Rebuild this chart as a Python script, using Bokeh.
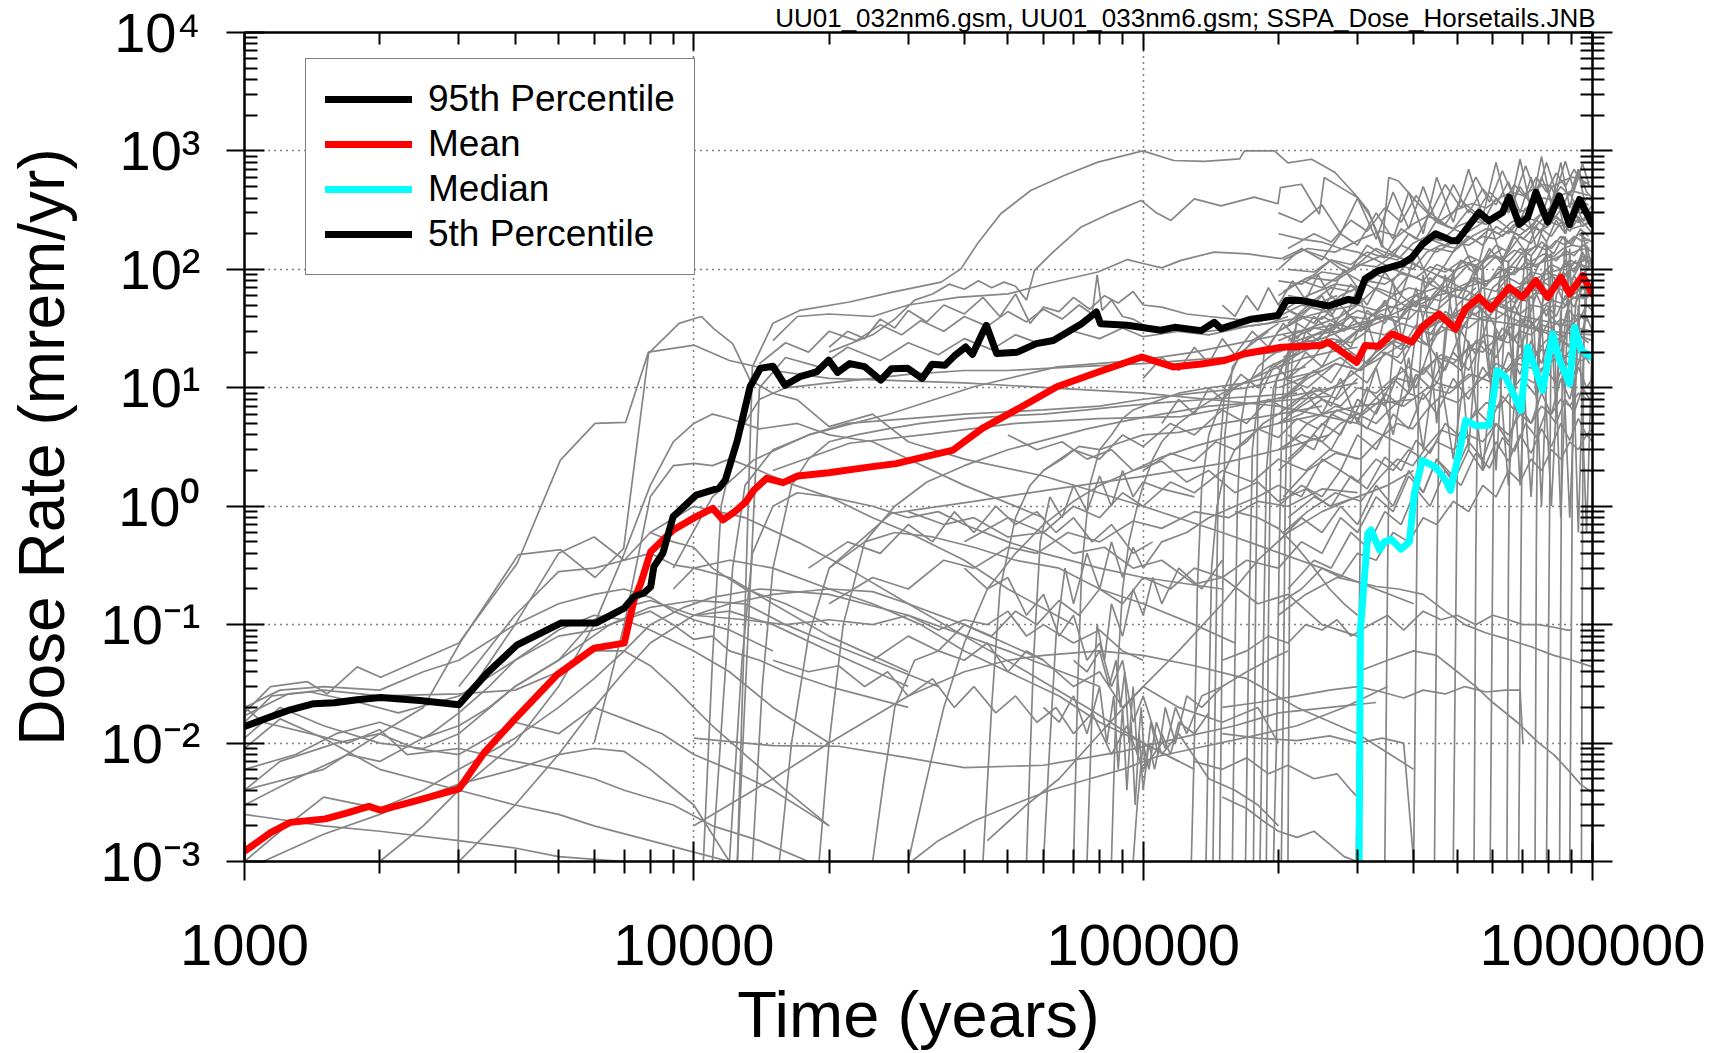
from bokeh.plotting import figure
from bokeh.models import (ColumnDataSource, FixedTicker, LogAxis, Range1d,
                          Legend, LegendItem, Title)
from bokeh.embed import file_html
from bokeh.resources import INLINE

# ---------------- data ----------------
x_tick_values = [1000, 10000, 100000, 1000000]
x_tick_labels = ["1000", "10000", "100000", "1000000"]
y_tick_values = [0.001, 0.01, 0.1, 1, 10, 100, 1000, 10000]
y_tick_labels = ["10\u207b\u00b3", "10\u207b\u00b2", "10\u207b\u00b9", "10\u2070",
                 "10\u00b9", "10\u00b2", "10\u00b3", "10\u2074"]
series_names = ["95th Percentile", "Mean", "Median", "5th Percentile"]
x_title = "Time (years)"
y_title = "Dose Rate (mrem/yr)"
file_note = "UU01_032nm6.gsm, UU01_033nm6.gsm; SSPA_Dose_Horsetails.JNB"

# statistics (time [yr], dose [mrem/yr])
p95 = [(1000, 0.0138), (1124, 0.0163), (1265, 0.0191), (1426, 0.0215), (1585, 0.0219),
       (1782, 0.0232), (2009, 0.0243), (2455, 0.0229), (3000, 0.0211), (3467, 0.039),
       (4046, 0.0676), (5058, 0.103), (6053, 0.103), (7000, 0.138), (7362, 0.173),
       (7745, 0.185), (8017, 0.209), (8147, 0.309), (8531, 0.401), (8995, 0.817),
       (10120, 1.24), (11380, 1.42), (11750, 1.66), (12500, 3.61), (13340, 10.2),
       (14060, 14.6), (15000, 15.2), (15960, 10.5), (17220, 12.4), (18750, 13.6),
       (19950, 17.1), (20890, 13.5), (22230, 16.0), (23990, 15.1), (26060, 11.6),
       (27540, 14.5), (29920, 14.6), (32210, 12.0), (33880, 15.8), (36220, 15.5),
       (38020, 18.6), (40270, 22.1), (41690, 19.1), (43850, 28.7), (44770, 33.7),
       (47210, 19.5), (52480, 20.0), (57810, 23.6), (63100, 25.1), (72940, 34.8),
       (78700, 43.6), (80350, 34.8), (92260, 33.7), (109400, 30.6), (117500, 32.4),
       (134600, 30.4), (144000, 35.7), (149100, 31.6), (174000, 38.0), (199500, 40.7),
       (208400, 54.5), (225000, 54.5), (258200, 49.0), (286200, 55.8), (298800, 54.1),
       (311900, 83.2), (334000, 97.7), (363900, 107), (376700, 111), (396600, 126),
       (417600, 162), (447300, 200), (487400, 174), (500000, 174), (530900, 234),
       (559300, 302), (588700, 257), (630500, 302), (652400, 407), (686800, 240),
       (716900, 275), (748300, 447), (794900, 251), (843800, 417), (888700, 240),
       (935400, 389), (1000000, 240)]

mean = [(1000, 0.00122), (1143, 0.00175), (1265, 0.00214), (1514, 0.00229), (1694, 0.00257),
        (1892, 0.00292), (2009, 0.00271), (2382, 0.00322), (3000, 0.0041), (3412, 0.00826),
        (3981, 0.0157), (4966, 0.0378), (5998, 0.0634), (7000, 0.0698), (7362, 0.162),
        (7621, 0.224), (8017, 0.413), (8995, 0.63), (10120, 0.817), (11020, 0.959),
        (11610, 0.766), (12300, 0.89), (13060, 1.09), (13610, 1.37), (14520, 1.72),
        (15810, 1.58), (17020, 1.80), (19950, 1.92), (24720, 2.15), (28180, 2.29),
        (32580, 2.61), (37760, 2.98), (43850, 4.54), (52000, 6.47), (64270, 10.2),
        (79430, 13.6), (99310, 18.2), (116700, 15.0), (134600, 15.9), (151700, 17.0),
        (168300, 19.4), (202800, 22.0), (249500, 22.8), (258200, 24.3), (298800, 16.4),
        (311900, 22.8), (334000, 22.4), (358100, 28.5), (396300, 24.3), (417800, 32.4),
        (455000, 42.1), (495500, 31.4), (521200, 46.3), (559300, 58.1), (593700, 46.3),
        (652400, 70.5), (698200, 58.1), (748200, 80.2), (794900, 58.1), (851100, 85.7),
        (888700, 61.9), (950600, 88.5), (1000000, 61.9)]

median = [(302400, 0.001), (304400, 0.0904), (316200, 0.59), (321500, 0.631), (335700, 0.427),
          (344400, 0.501), (356300, 0.526), (375000, 0.434), (391300, 0.501), (401400, 1.28),
          (417800, 2.44), (447300, 2.14), (470900, 1.66), (483100, 1.36), (504300, 2.78),
          (522100, 5.31), (549500, 4.79), (588700, 4.82), (613800, 14.0), (641200, 12.3),
          (692600, 6.44), (716900, 22.0), (748300, 14.0), (774500, 9.51), (815500, 28.5),
          (843800, 17.2), (889200, 10.8), (912000, 32.4), (943500, 20.7), (968300, 19.4),
          (1000000, 18.1)]

# individual realizations (horsetails)
run_g01 = [(1000, 0.018), (1143, 0.030), (1380, 0.033), (1528, 0.026), (1782, 0.044), (2009, 0.036),
           (3000, 0.070), (4046, 0.33), (5047, 2.45), (6026, 5.0), (7047, 5.1), (7925, 20),
           (10020, 22.9), (12000, 17), (15000, 14), (20000, 12), (40000, 11), (100000, 9),
           (200000, 7), (300000, 5), (400000, 3)]
run_g02 = [(1000, 0.004), (1500, 0.006), (2000, 0.012), (2500, 0.02), (3030, 0.072), (4070, 0.39),
           (5050, 0.43), (6030, 0.25), (6980, 0.44), (7930, 19.5), (9270, 35), (10400, 40),
           (11070, 31.6), (12200, 23.6), (13340, 11.6), (15000, 9), (17000, 7.9), (20000, 4.7),
           (25000, 6.0), (30000, 3.5), (40000, 2.5), (60000, 1.8), (100000, 1.0), (150000, 0.6),
           (250000, 0.3), (400000, 0.15)]
run_g03 = [(12500, 0.001), (13500, 15), (15000, 35), (17200, 45), (22200, 53), (27500, 64),
           (35500, 78), (39300, 101), (42800, 165), (48200, 295), (56200, 463), (66700, 621),
           (79300, 804), (99800, 1000), (117000, 830), (137000, 815), (164000, 857), (168000, 1000),
           (196000, 1000), (210000, 794), (237000, 851), (267000, 661), (296000, 431), (317000, 312),
           (340000, 153), (352000, 596), (370000, 558), (404000, 379), (450000, 250), (520000, 200),
           (600000, 280), (700000, 180), (800000, 300), (900000, 220), (1000000, 250)]
run_g04 = [(20000, 20), (25000, 28), (28000, 38), (31000, 55), (34000, 62), (37000, 75), (40000, 68),
           (43000, 80), (46000, 70), (49000, 78), (52000, 72), (55000, 55), (57300, 98), (63000, 140),
           (72800, 228), (85000, 300), (98900, 382), (107000, 300), (115300, 259), (130000, 394),
           (149000, 344), (176600, 407), (199500, 358), (202000, 490), (225000, 523), (246600, 292),
           (252900, 596), (275400, 490), (300000, 405), (321000, 275), (343000, 153), (380000, 120),
           (450000, 90), (550000, 60), (700000, 40), (1000000, 30)]
run_g05 = [(15000, 25), (17000, 40), (20000, 42), (25000, 40), (30000, 50), (38600, 58), (50000, 62),
           (61200, 76), (79300, 95), (92300, 121), (100000, 112), (110000, 103), (121400, 119),
           (143900, 140), (171000, 135), (202800, 123), (225000, 148), (254000, 126), (286000, 91),
           (307000, 78), (350000, 60), (400000, 45), (500000, 40), (650000, 35), (800000, 30),
           (1000000, 28)]
run_g07 = [(20000, 22), (22000, 30), (24000, 26), (26000, 38), (28000, 32), (30000, 45), (33000, 36),
           (36000, 50), (40000, 42), (44000, 58), (48000, 40), (52000, 62), (56000, 35), (60000, 48),
           (65000, 44), (70000, 58), (76000, 46), (82000, 60), (88000, 52), (95000, 65), (100000, 50),
           (110000, 48), (125000, 42), (140000, 40), (160000, 38), (180000, 36), (200000, 40)]
run_g08 = [(14000, 16), (16000, 24), (18000, 20), (20000, 30), (23000, 25), (26000, 34), (29000, 28),
           (32000, 37), (36000, 30), (40000, 40), (45000, 33), (50000, 44), (55000, 36), (60000, 46),
           (66000, 38), (72000, 50), (77000, 42), (79000, 90), (81000, 45), (85000, 55), (90000, 40),
           (95000, 38), (100000, 34), (105000, 30), (115000, 32), (130000, 29), (150000, 31),
           (170000, 33), (190000, 35), (210000, 40)]
run_g09 = [(12500, 0.001), (14000, 10), (16000, 18), (19000, 15), (22000, 22), (26000, 17), (30000, 24),
           (35000, 19), (40000, 26), (46000, 21), (52000, 28), (60000, 23), (70000, 30), (80000, 26),
           (90000, 32), (100000, 27), (120000, 30), (140000, 28), (170000, 33), (200000, 36),
           (230000, 40), (260000, 45), (300000, 50)]

run_e03 = [(1000, 0.015), (1150, 0.025), (1400, 0.027), (1800, 0.022), (2200, 0.018), (3000, 0.025),
           (4000, 0.05), (5000, 0.08), (6000, 0.09), (7000, 0.11), (8000, 0.13), (9000, 0.1),
           (10000, 0.075), (11000, 0.08), (12000, 0.06), (14000, 0.05), (16000, 0.04), (20000, 0.03),
           (30000, 0.02)]
run_e04 = [(1000, 0.011), (1200, 0.02), (1500, 0.014), (2000, 0.01), (2500, 0.009), (3000, 0.012),
           (4000, 0.03), (5000, 0.05), (6500, 0.1), (8000, 0.14), (10000, 0.16), (13000, 0.15),
           (16000, 0.1), (20000, 0.07), (25000, 0.05), (35000, 0.03)]
run_e05 = [(1000, 0.006), (1300, 0.008), (1600, 0.012), (2000, 0.015), (2500, 0.011), (3000, 0.014),
           (3500, 0.02), (4000, 0.03), (5000, 0.05), (6000, 0.11), (7000, 0.14), (8000, 0.16),
           (10000, 0.12), (12000, 0.13), (15000, 0.1), (20000, 0.06), (30000, 0.03)]
run_e06 = [(1000, 0.009), (1200, 0.016), (1500, 0.011), (2000, 0.006), (3000, 0.004), (4000, 0.003),
           (5000, 0.0025), (6000, 0.002), (8000, 0.0015), (10000, 0.0012), (12000, 0.001)]
run_e07 = [(1000, 0.02), (1100, 0.015), (1400, 0.012), (1700, 0.01), (2000, 0.013), (2300, 0.008),
           (3000, 0.009), (4000, 0.007), (5000, 0.006), (6000, 0.005), (7000, 0.004), (9000, 0.003),
           (11000, 0.002), (14000, 0.0015), (18000, 0.001)]
run_e08 = [(1000, 0.001), (1200, 0.0018), (1500, 0.0035), (2000, 0.0028), (2500, 0.004), (3000, 0.006),
           (4000, 0.011), (5000, 0.02), (6000, 0.035), (7000, 0.06), (8000, 0.1), (9500, 0.14),
           (11000, 0.17), (14000, 0.2), (20000, 0.18), (30000, 0.12), (50000, 0.06), (80000, 0.03)]
run_e09 = [(1000, 0.003), (1300, 0.005), (1700, 0.008), (2000, 0.007), (2600, 0.012), (3000, 0.018),
           (3500, 0.03), (4000, 0.05), (5000, 0.09), (6000, 0.12), (7000, 0.11), (8000, 0.09),
           (10000, 0.06), (12000, 0.04), (15000, 0.02), (20000, 0.01)]
run_e10 = [(1100, 0.001), (1500, 0.0017), (2000, 0.0025), (2500, 0.0035), (3000, 0.0045), (4000, 0.006),
           (5000, 0.008), (6000, 0.009), (7000, 0.0085), (8000, 0.006), (10000, 0.003), (12000, 0.001)]
run_e11 = [(1000, 0.017), (1250, 0.026), (1500, 0.028), (2000, 0.025), (3000, 0.026), (4000, 0.028),
           (5000, 0.04), (6000, 0.06), (7000, 0.06), (8000, 0.045), (9000, 0.03), (10000, 0.02),
           (11000, 0.014), (13000, 0.008), (16000, 0.004), (20000, 0.002)]
run_e12 = [(1000, 0.004), (1200, 0.007), (1600, 0.01), (2000, 0.012), (2400, 0.009), (3000, 0.008),
           (4000, 0.015), (5000, 0.012), (6000, 0.02), (7000, 0.016), (8500, 0.012), (10000, 0.008),
           (12000, 0.006), (15000, 0.004), (20000, 0.002)]
run_e13 = [(2000, 0.001), (2500, 0.002), (3000, 0.004), (4000, 0.01), (5000, 0.03), (6000, 0.1),
           (7000, 0.4), (8000, 1.5), (9000, 3.5), (10000, 5), (11000, 6), (12000, 5.5), (14000, 4.5),
           (17000, 5), (20000, 4), (25000, 3.5), (30000, 2.5), (40000, 1.5), (60000, 0.8)]
run_e14 = [(3000, 0.001), (4000, 0.003), (5000, 0.008), (6000, 0.02), (7000, 0.04), (8000, 0.07),
           (10000, 0.12), (12000, 0.15), (15000, 0.18), (20000, 0.2), (25000, 0.19), (30000, 0.15),
           (40000, 0.1), (60000, 0.05)]
run_e15 = [(1000, 0.0025), (1500, 0.002), (2000, 0.0018), (3000, 0.0015), (4000, 0.0013),
           (5000, 0.0011), (7000, 0.001)]
run_e16 = [(1000, 0.02), (1200, 0.028), (1500, 0.03), (2000, 0.028), (2500, 0.04), (3000, 0.05),
           (4000, 0.1), (5000, 0.15), (6000, 0.18), (7000, 0.2), (8000, 0.17), (9000, 0.13),
           (10000, 0.11), (12000, 0.09), (15000, 0.06)]
run_e17 = [(6000, 0.01), (7000, 0.1), (8000, 1.2), (9000, 2.2), (10000, 2.3), (11000, 2.2), (12000, 2.5),
           (14000, 2.0), (16000, 1.6), (20000, 1.2), (25000, 0.8), (30000, 0.6), (40000, 0.35),
           (50000, 0.2), (70000, 0.1)]
run_e18 = [(3000, 0.03), (4000, 0.12), (5000, 0.28), (6000, 0.3), (7000, 0.35), (8000, 0.4), (9000, 0.32),
           (10000, 0.3), (12000, 0.25), (15000, 0.15), (20000, 0.08), (30000, 0.04)]
run_e19 = [(2990, 0.001), (3000, 0.02), (4000, 0.1), (5000, 0.4), (6000, 0.55), (7000, 0.35), (8000, 0.6),
           (9000, 0.5), (10000, 0.45), (11000, 0.3), (13000, 0.2), (16000, 0.15), (20000, 0.1)]

run_r01 = [(10500, 0.001), (11000, 0.05), (11500, 1.0), (12500, 4), (14000, 8), (16000, 10), (20000, 11),
           (25000, 12), (30000, 13), (40000, 14), (50000, 14), (70000, 15), (100000, 16), (150000, 18),
           (200000, 20)]
run_r02 = [(11000, 0.001), (11600, 0.02), (12200, 0.3), (13000, 1.5), (15000, 3), (18000, 4), (22000, 5),
           (30000, 5.5), (40000, 6), (60000, 6.5), (80000, 7), (100000, 8), (130000, 9), (170000, 10),
           (210000, 12), (250000, 14)]
run_r03 = [(12000, 0.001), (12800, 0.05), (13500, 0.4), (15000, 1.0), (17000, 1.3), (20000, 1.2),
           (25000, 1.0), (30000, 0.8), (35000, 0.9), (40000, 0.7), (50000, 0.5), (60000, 0.4),
           (80000, 0.3), (100000, 0.25), (150000, 0.2)]
run_r04 = [(13500, 0.001), (14200, 0.03), (15000, 0.3), (16500, 1.5), (18000, 2.5), (20000, 3.5),
           (23000, 4), (27000, 4.5), (32000, 5), (40000, 5.5), (50000, 5.8), (60000, 6), (75000, 6.5),
           (90000, 7), (110000, 7.5), (140000, 8), (180000, 8.5), (220000, 9)]
run_r05 = [(15500, 0.001), (16500, 0.01), (18000, 0.08), (20000, 0.3), (24000, 0.5), (28000, 0.6),
           (34000, 0.55), (42000, 0.45), (52000, 0.35), (65000, 0.3), (80000, 0.2), (100000, 0.15),
           (130000, 0.1), (160000, 0.07)]
run_r06 = [(19000, 0.001), (20000, 0.01), (21500, 0.1), (24000, 0.5), (28000, 1.0), (33000, 1.6),
           (40000, 2.2), (50000, 3), (60000, 3.6), (75000, 4.5), (90000, 5.2), (110000, 6), (140000, 7),
           (180000, 7.5), (220000, 8), (260000, 8.5)]
run_r07 = [(25000, 0.001), (26500, 0.005), (28000, 0.02), (31000, 0.05), (35000, 0.06), (40000, 0.05),
           (45000, 0.07), (50000, 0.04), (55000, 0.06), (60000, 0.05), (70000, 0.03), (80000, 0.04),
           (90000, 0.02), (100000, 0.03), (120000, 0.02), (150000, 0.015), (180000, 0.02), (200000, 0.01)]
run_r08 = [(30000, 0.001), (33000, 0.005), (36000, 0.02), (40000, 0.07), (45000, 0.2), (52000, 0.4),
           (60000, 0.7), (70000, 1.1), (80000, 1.5), (95000, 2.0), (110000, 2.6), (130000, 3.2),
           (160000, 4), (200000, 5), (250000, 6), (300000, 7), (400000, 8)]
run_r09 = [(44000, 0.001), (46000, 0.02), (48000, 0.2), (52000, 0.8), (56000, 1.5), (60000, 2.0),
           (66000, 2.5), (72000, 3.2), (80000, 3.0), (90000, 3.5), (100000, 4.0), (120000, 4.2),
           (150000, 5.0), (200000, 6.0), (250000, 7.0)]
run_r10 = [(55000, 0.001), (57000, 0.05), (59000, 0.5), (62000, 1.2), (66000, 0.8), (70000, 1.5),
           (75000, 0.9), (80000, 1.8), (85000, 1.0), (90000, 2.0), (95000, 1.2), (100000, 1.6),
           (110000, 1.4), (130000, 1.2)]
run_r11 = [(60000, 0.001), (62000, 0.01), (64000, 0.08), (67000, 0.3), (70000, 0.15), (75000, 0.4),
           (80000, 0.2), (85000, 0.5), (90000, 0.25), (95000, 0.45), (100000, 0.3), (110000, 0.5),
           (125000, 0.6), (140000, 0.8), (160000, 1.0), (180000, 1.2), (200000, 1.5)]
run_r12 = [(70000, 0.001), (71500, 0.03), (73000, 0.3), (76000, 1.5), (80000, 3), (85000, 4), (90000, 5.5),
           (95000, 6.5), (100000, 7), (110000, 8), (120000, 9), (140000, 10), (170000, 11),
           (200000, 13), (230000, 15)]
run_r13 = [(75000, 0.001), (77000, 0.02), (79000, 0.1), (82000, 0.05), (85000, 0.15), (90000, 0.08),
           (95000, 0.2), (100000, 0.12), (105000, 0.25), (110000, 0.15), (120000, 0.3), (135000, 0.2),
           (150000, 0.35)]
run_r14 = [(85000, 0.001), (86500, 0.01), (88000, 0.05), (90000, 0.2), (93000, 0.5), (97000, 1.0),
           (100000, 1.5), (105000, 2.5), (110000, 3.5), (120000, 5), (135000, 7), (150000, 9),
           (175000, 12), (200000, 15), (230000, 18), (260000, 20), (300000, 22)]
run_r15 = [(95000, 0.001), (97000, 0.003), (100000, 0.01), (103000, 0.006), (107000, 0.015),
           (112000, 0.009), (118000, 0.02), (125000, 0.012), (135000, 0.025), (150000, 0.03),
           (170000, 0.04), (190000, 0.05), (210000, 0.06)]
run_r16 = [(195000, 0.001), (198000, 0.01), (201000, 0.5), (204000, 8), (210000, 20), (220000, 35),
           (235000, 30), (250000, 40), (270000, 35), (300000, 45), (330000, 40)]
run_r17 = [(203000, 0.001), (205000, 0.02), (207000, 1), (210000, 15), (215000, 25), (222000, 20),
           (230000, 30), (245000, 25), (260000, 35), (280000, 30), (300000, 40)]
run_r18 = [(128000, 0.001), (130000, 0.01), (132000, 0.2), (135000, 1.5), (140000, 4), (150000, 8),
           (160000, 10), (175000, 12), (190000, 15), (210000, 18), (240000, 22), (280000, 25)]
run_r19 = [(138000, 0.001), (140000, 0.02), (142000, 0.3), (146000, 1.0), (152000, 2), (160000, 3),
           (170000, 3.5), (185000, 5), (200000, 6), (220000, 8), (250000, 10)]
run_r20 = [(158000, 0.001), (160000, 0.05), (162000, 1), (165000, 5), (170000, 10), (180000, 15),
           (190000, 18), (205000, 22), (220000, 25), (240000, 28), (270000, 30), (300000, 35),
           (350000, 40)]

run_q01 = [(169000, 0.001), (172000, 0.1), (175000, 3), (180000, 8), (195000, 15), (220000, 20)]
run_q02 = [(182000, 0.001), (185000, 0.05), (188000, 2), (195000, 10), (210000, 20), (240000, 28),
           (280000, 35)]
run_q03 = [(298000, 0.001), (302000, 0.05), (306000, 5), (312000, 30), (320000, 40), (340000, 45),
           (370000, 50), (400000, 60), (450000, 70)]
run_q04 = [(400000, 0.001), (405000, 0.1), (410000, 10), (420000, 40), (440000, 60), (470000, 80),
           (500000, 100), (550000, 120)]
run_q05 = [(490000, 0.001), (497000, 0.2), (503000, 20), (515000, 60), (540000, 90), (580000, 120),
           (630000, 150)]
run_q06 = [(592000, 0.001), (600000, 0.5), (606000, 30), (620000, 80), (650000, 100), (700000, 140),
           (760000, 160)]
run_q07 = [(685000, 0.001), (693000, 0.3), (700000, 25), (720000, 70), (760000, 110), (820000, 140)]
run_q08 = [(790000, 0.001), (800000, 0.2), (808000, 20), (830000, 60), (870000, 90), (920000, 120)]
run_q09 = [(890000, 0.001), (900000, 0.5), (906000, 30), (930000, 80), (970000, 100), (1000000, 110)]
run_q10 = [(143000, 0.001), (145000, 0.05), (147000, 2), (152000, 10), (165000, 20), (190000, 30)]
run_q11 = [(148000, 0.001), (150000, 0.1), (152000, 4), (158000, 15), (175000, 25), (200000, 35)]
run_q12 = [(176000, 0.001), (178000, 0.2), (180000, 6), (186000, 20), (200000, 30), (230000, 40)]
run_q13 = [(188000, 0.001), (190000, 0.1), (192000, 3), (198000, 12), (215000, 22), (250000, 30)]
run_q14 = [(210000, 0.001), (212000, 0.5), (214000, 15), (220000, 40), (240000, 50), (270000, 60)]
run_q15 = [(345000, 0.001), (350000, 0.3), (355000, 12), (365000, 35), (390000, 50), (430000, 60)]
run_q16 = [(445000, 0.001), (450000, 0.2), (456000, 8), (470000, 30), (500000, 50), (550000, 70)]
run_q17 = [(545000, 0.001), (550000, 0.4), (556000, 15), (570000, 45), (600000, 70), (650000, 90)]
run_q18 = [(645000, 0.001), (650000, 0.3), (656000, 10), (670000, 40), (700000, 60), (750000, 80)]
run_q19 = [(745000, 0.001), (750000, 0.5), (756000, 20), (770000, 50), (800000, 70), (850000, 90)]
run_q20 = [(845000, 0.001), (850000, 0.2), (856000, 12), (870000, 40), (900000, 60), (950000, 70)]
run_q21 = [(945000, 0.001), (950000, 0.6), (956000, 25), (970000, 60), (1000000, 80)]

run_m01 = [(8000, 0.6), (10000, 1.0), (13000, 0.8), (17000, 0.5), (22000, 0.3), (30000, 0.15),
           (40000, 0.08), (55000, 0.04), (75000, 0.02), (100000, 0.01), (130000, 0.006)]
run_m02 = [(9000, 0.2), (10000, 0.3), (12000, 0.35), (15000, 0.3), (20000, 0.2), (25000, 0.15),
           (32000, 0.1), (40000, 0.06), (50000, 0.04), (65000, 0.025), (80000, 0.015), (100000, 0.01),
           (120000, 0.007)]
run_m03 = [(10000, 0.002), (15000, 0.005), (20000, 0.01), (30000, 0.025), (40000, 0.04), (50000, 0.05),
           (60000, 0.055), (80000, 0.06), (100000, 0.055), (130000, 0.045), (170000, 0.035),
           (220000, 0.02), (300000, 0.012), (400000, 0.006)]
run_m04 = [(10000, 0.011), (15000, 0.0095), (21000, 0.0094), (30000, 0.0075), (40000, 0.0062),
           (60000, 0.0065), (90000, 0.0085), (120000, 0.011), (160000, 0.014), (200000, 0.018),
           (260000, 0.02), (330000, 0.022)]
run_m05 = [(10000, 0.12), (13000, 0.11), (16000, 0.1), (20000, 0.11), (25000, 0.1), (30000, 0.12),
           (35000, 0.09), (40000, 0.11), (45000, 0.1), (50000, 0.13), (55000, 0.08), (60000, 0.1),
           (70000, 0.07), (80000, 0.09), (90000, 0.06), (100000, 0.05)]
run_m06 = [(30500, 0.001), (35000, 0.0015), (42000, 0.0022), (52300, 0.0031), (62000, 0.004),
           (74800, 0.0049), (90000, 0.006), (107500, 0.0077), (130000, 0.009), (173800, 0.0114),
           (220000, 0.014), (280000, 0.02), (350000, 0.03)]
run_m07 = [(15000, 0.05), (18000, 0.04), (21000, 0.045), (24000, 0.03), (27000, 0.04), (30000, 0.025),
           (34000, 0.035), (38000, 0.02), (42000, 0.03), (47000, 0.018), (52000, 0.025), (58000, 0.015),
           (64000, 0.02), (70000, 0.012), (77000, 0.018), (85000, 0.008), (92000, 0.014),
           (100000, 0.006), (110000, 0.01)]
run_m08 = [(60000, 0.02), (65000, 0.015), (70000, 0.025), (75000, 0.012), (80000, 0.03), (83000, 0.01),
           (86000, 0.025), (88000, 0.006), (90000, 0.02), (92000, 0.004), (94000, 0.015),
           (96000, 0.003), (98000, 0.012), (100000, 0.004), (103000, 0.01), (106000, 0.006),
           (110000, 0.012), (115000, 0.008), (120000, 0.015), (130000, 0.012), (140000, 0.018)]
run_m09 = [(70000, 0.05), (75000, 0.04), (80000, 0.06), (84000, 0.03), (87000, 0.05), (89000, 0.02),
           (91000, 0.04), (93000, 0.01), (95000, 0.03), (97000, 0.008), (99000, 0.02), (101000, 0.006),
           (104000, 0.015), (108000, 0.008), (112000, 0.02), (118000, 0.01), (125000, 0.025),
           (135000, 0.02), (150000, 0.03)]
run_m10 = [(40000, 0.3), (45000, 0.2), (50000, 0.25), (55000, 0.12), (60000, 0.18), (65000, 0.08),
           (70000, 0.12), (75000, 0.05), (80000, 0.07), (85000, 0.03), (90000, 0.05), (95000, 0.015),
           (100000, 0.025), (110000, 0.008), (120000, 0.012), (140000, 0.005), (160000, 0.004),
           (180000, 0.003), (200000, 0.002)]
run_m11 = [(45000, 0.0015), (55000, 0.003), (65000, 0.005), (80000, 0.012), (100000, 0.03),
           (120000, 0.06), (150000, 0.15), (180000, 0.35), (210000, 0.6), (250000, 0.9),
           (300000, 1.2), (350000, 1.5), (400000, 2)]
run_m12 = [(18000, 0.3), (22000, 0.5), (26000, 0.4), (30000, 0.7), (34000, 0.5), (38000, 0.9),
           (42000, 0.6), (47000, 1.0), (52000, 0.7), (58000, 0.9), (64000, 0.6), (70000, 0.8),
           (77000, 0.5), (85000, 0.7), (95000, 0.4), (105000, 0.5)]

run_n01 = [(100000, 12), (110000, 18), (120000, 14), (130000, 22), (140000, 16), (150000, 26),
           (160000, 19), (175000, 30), (190000, 22), (205000, 35), (220000, 26), (240000, 40),
           (260000, 30), (280000, 45), (300000, 35)]
run_n02 = [(110000, 5), (120000, 8), (130000, 6), (140000, 10), (150000, 8), (165000, 13), (180000, 10),
           (195000, 16), (210000, 12), (230000, 20), (250000, 15), (270000, 25), (300000, 18)]
run_n03 = [(150000, 50), (160000, 40), (170000, 60), (180000, 45), (190000, 70), (200000, 50),
           (215000, 80), (230000, 55), (245000, 90), (260000, 60), (280000, 100), (300000, 70)]
run_n04 = [(60000, 2), (70000, 3), (80000, 2.5), (90000, 4), (100000, 3.2), (115000, 5), (130000, 4),
           (150000, 6.5), (170000, 5), (190000, 8), (210000, 6.5), (240000, 10), (270000, 8), (300000, 12)]
run_n05 = [(40000, 0.5), (50000, 0.8), (60000, 0.6), (70000, 1.0), (80000, 0.8), (90000, 1.3),
           (100000, 1.0), (115000, 1.6), (130000, 1.3), (150000, 2.0), (175000, 1.6), (200000, 2.5),
           (230000, 2.0), (260000, 3.0), (300000, 2.5)]
run_n06 = [(25000, 0.05), (30000, 0.08), (35000, 0.06), (40000, 0.1), (46000, 0.08), (52000, 0.13),
           (58000, 0.1), (65000, 0.16), (72000, 0.12), (80000, 0.2), (90000, 0.15), (100000, 0.25),
           (115000, 0.2), (130000, 0.3), (150000, 0.25), (170000, 0.35), (200000, 0.3)]
run_n07 = [(20000, 0.15), (25000, 0.25), (30000, 0.2), (36000, 0.35), (42000, 0.3), (50000, 0.45),
           (58000, 0.4), (68000, 0.6), (80000, 0.5), (95000, 0.75), (110000, 0.65), (130000, 0.9),
           (155000, 0.8), (180000, 1.1), (210000, 1.0), (250000, 1.4), (300000, 1.3)]
run_n08 = [(30000, 0.9), (36000, 0.7), (42000, 0.8), (50000, 0.55), (60000, 0.6), (70000, 0.4),
           (82000, 0.45), (95000, 0.3), (110000, 0.35), (130000, 0.22), (150000, 0.25), (180000, 0.15),
           (210000, 0.18), (250000, 0.1), (300000, 0.08)]
run_n09 = [(50000, 4), (58000, 3), (66000, 3.5), (75000, 2.5), (85000, 3), (95000, 2), (110000, 2.4),
           (125000, 1.6), (140000, 2), (160000, 1.3), (180000, 1.6), (200000, 1.1), (230000, 1.4),
           (260000, 1.0), (300000, 1.2)]
run_n10 = [(100000, 2), (115000, 2.8), (130000, 2.4), (145000, 3.5), (160000, 3), (180000, 4.5),
           (200000, 3.8), (220000, 5.5), (245000, 4.5), (270000, 6.5), (300000, 5.5), (340000, 8),
           (380000, 7), (430000, 10), (480000, 9), (540000, 13), (600000, 11), (680000, 16),
           (760000, 14), (850000, 19), (950000, 17), (1000000, 20)]

run_s01 = [(9000, 0.3), (11000, 1.2), (13600, 2.46), (18000, 4), (27500, 6.07), (42000, 10.2),
           (64300, 15), (98400, 17.1), (130000, 20), (173800, 25), (220000, 30), (280000, 35)]
run_s02 = [(15000, 2), (22200, 3.4), (34000, 4.1), (52000, 5.0), (79400, 5.5), (121600, 5.7),
           (173800, 7.4), (230000, 9), (300000, 11)]
run_s03 = [(20000, 0.3), (27500, 0.87), (42000, 1.1), (64000, 1.4), (98000, 1.77), (150000, 2.3),
           (200000, 3), (260000, 4)]

run_l01 = [(160000, 0.9), (180000, 0.8), (200000, 0.65), (220000, 0.45), (240000, 0.3), (260000, 0.2),
           (280000, 0.15), (300000, 0.12)]
run_l02 = [(200000, 0.12), (230000, 0.18), (270000, 0.25), (300000, 0.23), (330000, 0.21), (370000, 0.2),
           (420000, 0.18), (470000, 0.13), (520000, 0.1), (580000, 0.085), (650000, 0.075),
           (730000, 0.065), (820000, 0.055), (900000, 0.05), (1000000, 0.044)]
run_l03 = [(150000, 0.05), (170000, 0.06), (190000, 0.08), (210000, 0.07), (230000, 0.1), (250000, 0.09),
           (270000, 0.11), (290000, 0.08), (320000, 0.1), (350000, 0.12), (380000, 0.09), (420000, 0.13),
           (460000, 0.11), (500000, 0.12), (550000, 0.1), (600000, 0.12), (650000, 0.11), (700000, 0.1),
           (760000, 0.1), (820000, 0.095), (880000, 0.09), (900000, 0.09)]
run_l04 = [(300000, 0.04), (350000, 0.05), (400000, 0.06), (450000, 0.055), (500000, 0.04), (550000, 0.03),
           (600000, 0.022), (680000, 0.015), (760000, 0.01), (820000, 0.008), (880000, 0.006),
           (940000, 0.0045), (1000000, 0.0038)]
run_l05 = [(150000, 0.02), (180000, 0.022), (220000, 0.025), (260000, 0.028), (300000, 0.03),
           (340000, 0.027), (380000, 0.024), (420000, 0.028), (470000, 0.026), (520000, 0.03),
           (580000, 0.027), (640000, 0.028), (690000, 0.028), (700000, 0.01)]
run_l06 = [(150000, 0.012), (180000, 0.011), (220000, 0.0105), (260000, 0.0115), (300000, 0.01),
           (340000, 0.011), (380000, 0.01), (400000, 0.001)]
run_l07 = [(130000, 0.007), (150000, 0.006), (170000, 0.0075), (190000, 0.0055), (210000, 0.0065),
           (240000, 0.005), (270000, 0.0055), (290000, 0.004), (300000, 0.0035)]
run_l08 = [(150000, 0.0035), (170000, 0.0028), (185000, 0.0022), (200000, 0.0018), (220000, 0.0016),
           (240000, 0.0018), (260000, 0.0014), (280000, 0.0011), (300000, 0.001)]

# dense late-time cluster, shared time grids
cluster_t = [200000, 225000, 250000, 275000, 300000, 330000, 360000, 390000, 420000, 450000, 490000,
             530000, 570000, 610000, 650000, 690000, 730000, 770000, 810000, 850000, 890000, 930000,
             970000, 1000000]
cl_01 = [60, 80, 70, 90, 110, 150, 130, 200, 170, 260, 220, 320, 250, 400, 300, 500, 350, 600, 380, 500, 420, 700, 450, 400]
cl_02 = [40, 50, 45, 60, 70, 90, 80, 120, 100, 150, 140, 190, 160, 230, 200, 260, 220, 300, 250, 320, 280, 340, 300, 300]
cl_03 = [25, 30, 35, 40, 50, 45, 60, 70, 65, 90, 80, 110, 100, 130, 115, 150, 130, 170, 150, 190, 165, 200, 180, 170]
cl_04 = [15, 20, 25, 22, 30, 35, 40, 38, 50, 45, 60, 55, 70, 65, 85, 75, 95, 90, 110, 100, 120, 110, 130, 120]
cl_05 = [10, 12, 15, 18, 14, 20, 25, 22, 30, 28, 35, 32, 40, 38, 45, 42, 50, 48, 55, 52, 60, 56, 65, 60]
cl_06 = [5, 6, 8, 7, 10, 9, 12, 15, 13, 18, 16, 22, 20, 26, 24, 30, 28, 34, 32, 38, 36, 42, 40, 40]
cl_07 = [3, 4, 3.5, 5, 6, 5, 7, 9, 8, 11, 10, 13, 12, 16, 14, 18, 17, 21, 20, 25, 23, 28, 26, 25]
cl_08 = [100, 150, 120, 200, 160, 300, 180, 450, 200, 600, 250, 700, 280, 800, 300, 850, 320, 900, 350, 800, 330, 700, 300, 350]
cl_09 = [30, 40, 38, 55, 50, 70, 62, 90, 80, 110, 95, 130, 115, 160, 140, 190, 165, 220, 190, 250, 210, 270, 230, 200]
cl_10 = [200, 180, 170, 150, 140, 120, 100, 90, 80, 70, 60, 55, 50, 45, 40, 36, 32, 30, 28, 25, 22, 20, 18, 17]
cl_11 = [1, 1.5, 1.2, 2, 1.6, 2.5, 2, 3, 2.5, 3.5, 3, 4, 3.5, 5, 4, 6, 5, 7, 6, 8, 7, 9, 8, 8]
cl_12 = [50, 40, 60, 30, 70, 20, 80, 10, 90, 5, 100, 3, 110, 2, 120, 1.5, 130, 1, 140, 0.8, 150, 0.6, 160, 100]
cl_13 = [0.3, 0.5, 0.4, 0.8, 0.6, 1.2, 0.9, 1.8, 1.3, 2.5, 1.8, 3.5, 2.5, 5, 3.5, 7, 5, 9, 6, 12, 8, 15, 10, 12]
cl_14 = [8, 10, 6, 12, 5, 15, 4, 18, 3, 20, 2.5, 25, 2, 30, 1.5, 35, 1.2, 40, 1, 45, 0.8, 50, 0.6, 30]
cl_15 = [2, 3, 5, 4, 8, 6, 12, 9, 15, 11, 20, 14, 25, 18, 30, 22, 35, 28, 40, 32, 45, 36, 50, 45]
cl_16 = [20, 24, 26, 30, 33, 38, 42, 48, 52, 60, 65, 72, 78, 85, 90, 100, 105, 115, 120, 130, 135, 145, 150, 140]
cl_17 = [300, 250, 350, 200, 400, 180, 450, 220, 500, 250, 520, 300, 480, 350, 550, 300, 600, 280, 500, 320, 450, 300, 400, 380]
cl_18 = [80, 75, 95, 90, 110, 105, 130, 120, 150, 140, 170, 160, 190, 180, 210, 195, 230, 210, 250, 230, 270, 250, 280, 260]
cl_19 = [5, 7, 9, 11, 14, 17, 21, 25, 30, 35, 40, 46, 52, 58, 65, 72, 80, 88, 95, 100, 110, 115, 120, 115]
cl_20 = [1.5, 1.2, 2.5, 2, 4, 3, 6, 4.5, 9, 6, 12, 8, 15, 10, 20, 13, 25, 16, 30, 20, 35, 24, 40, 30]
cl_21 = [0.5, 0.8, 0.6, 1.0, 0.7, 1.5, 1.0, 2.0, 1.3, 2.5, 1.6, 3.0, 2.0, 3.5, 2.4, 4.0, 2.8, 4.5, 3.2, 5.0, 3.6, 5.5, 4.0, 4.5]
cl_22 = [0.15, 0.2, 0.3, 0.25, 0.4, 0.35, 0.6, 0.5, 0.8, 0.7, 1.1, 0.9, 1.5, 1.2, 2.0, 1.6, 2.5, 2.0, 3.0, 2.5, 3.5, 3.0, 4.0, 3.5]

cluster_t2 = [210000, 240000, 262000, 290000, 315000, 345000, 375000, 405000, 435000, 470000, 510000,
              550000, 590000, 630000, 670000, 710000, 750000, 790000, 830000, 870000, 910000, 950000,
              985000]
cm_01 = [35, 55, 40, 75, 50, 95, 60, 140, 75, 110, 180, 90, 250, 120, 200, 330, 150, 280, 450, 200, 380, 260, 300]
cm_02 = [12, 18, 30, 22, 45, 35, 60, 48, 85, 65, 120, 90, 150, 110, 190, 140, 230, 170, 260, 200, 300, 230, 260]
cm_03 = [6, 9, 7, 14, 11, 20, 16, 28, 22, 38, 30, 50, 40, 65, 52, 80, 65, 100, 80, 120, 95, 140, 110]
cm_04 = [70, 90, 120, 100, 160, 130, 220, 180, 300, 240, 380, 300, 450, 350, 520, 400, 600, 450, 650, 500, 700, 520, 550]
cm_05 = [20, 22, 26, 24, 30, 28, 35, 32, 40, 37, 46, 42, 52, 48, 58, 54, 64, 60, 70, 66, 76, 72, 75]
cm_06 = [2.5, 4, 3, 6, 4.5, 9, 7, 13, 10, 18, 14, 25, 19, 32, 25, 40, 32, 50, 40, 60, 48, 70, 60]
cm_07 = [45, 35, 60, 40, 30, 55, 25, 70, 20, 90, 15, 110, 12, 130, 10, 150, 8, 170, 6, 190, 5, 210, 100]
cm_08 = [150, 200, 170, 260, 210, 330, 250, 420, 290, 520, 330, 600, 370, 680, 400, 750, 420, 800, 450, 820, 460, 780, 500]
cm_09 = [9, 14, 11, 20, 16, 26, 21, 34, 28, 44, 36, 56, 46, 70, 58, 85, 70, 100, 82, 115, 95, 130, 110]
cm_10 = [0.8, 1.2, 1.0, 1.8, 1.4, 2.6, 2.0, 3.6, 2.8, 5.0, 3.8, 6.5, 5.0, 8.5, 6.5, 11, 8.5, 14, 11, 17, 13, 20, 16]
cm_11 = [100, 95, 120, 110, 140, 125, 160, 140, 180, 160, 200, 175, 220, 190, 240, 210, 260, 225, 280, 240, 300, 255, 270]
cm_12 = [4, 3, 6, 5, 10, 7, 15, 10, 22, 14, 30, 19, 40, 25, 50, 32, 62, 40, 75, 48, 90, 56, 70]
cm_13 = [25, 32, 30, 40, 38, 50, 46, 60, 55, 72, 66, 85, 78, 100, 90, 115, 105, 130, 118, 145, 130, 160, 150]
cm_14 = [0.2, 0.35, 0.3, 0.6, 0.45, 0.9, 0.7, 1.4, 1.0, 2.0, 1.5, 2.8, 2.1, 3.8, 2.9, 5.0, 3.8, 6.5, 5.0, 8.0, 6.2, 10, 8]
cm_15 = [60, 55, 70, 65, 80, 75, 92, 85, 105, 95, 118, 108, 130, 120, 145, 132, 160, 145, 175, 160, 190, 172, 180]

cluster_t3 = [205000, 232000, 268000, 305000, 338000, 368000, 398000, 428000, 460000, 500000, 540000,
              580000, 620000, 660000, 700000, 740000, 780000, 820000, 860000, 900000, 940000, 980000]
ck_01 = [45, 60, 75, 70, 95, 110, 100, 140, 160, 150, 190, 220, 200, 250, 280, 260, 310, 340, 320, 360, 380, 350]
ck_02 = [18, 25, 22, 32, 40, 36, 50, 58, 54, 70, 80, 75, 95, 105, 100, 120, 135, 128, 150, 160, 155, 170]
ck_03 = [8, 12, 16, 14, 20, 26, 24, 32, 38, 36, 46, 54, 50, 62, 70, 66, 80, 90, 85, 100, 110, 105]
ck_04 = [3, 5, 7, 6, 9, 12, 11, 15, 19, 17, 23, 28, 26, 33, 38, 35, 44, 50, 47, 56, 62, 58]
ck_05 = [120, 150, 140, 180, 210, 190, 240, 280, 260, 320, 360, 330, 400, 450, 420, 480, 520, 500, 560, 600, 580, 520]
ck_06 = [1.2, 2, 2.8, 2.5, 3.8, 5, 4.5, 6.5, 8.5, 7.5, 10, 13, 12, 16, 20, 18, 24, 29, 27, 34, 40, 36]
ck_07 = [28, 22, 35, 30, 42, 36, 55, 46, 68, 58, 85, 72, 105, 90, 130, 110, 160, 135, 190, 160, 220, 190]
ck_08 = [65, 85, 80, 110, 130, 120, 165, 190, 175, 230, 260, 240, 300, 330, 310, 370, 400, 380, 430, 460, 440, 420]
ck_09 = [0.6, 0.9, 1.3, 1.1, 1.8, 2.5, 2.2, 3.2, 4.4, 3.9, 5.6, 7.5, 6.8, 9.5, 12.5, 11, 15, 19, 17, 22, 27, 24]
ck_10 = [12, 10, 16, 14, 20, 18, 26, 23, 33, 29, 42, 37, 52, 46, 64, 56, 78, 68, 94, 82, 110, 98]

pair_runs = [run_g01, run_g02, run_g03, run_g04, run_g05, run_g07, run_g08, run_g09,
             run_e03, run_e04, run_e05, run_e06, run_e07, run_e08, run_e09, run_e10, run_e11,
             run_e12, run_e13, run_e14, run_e15, run_e16, run_e17, run_e18, run_e19,
             run_r01, run_r02, run_r03, run_r04, run_r05, run_r06, run_r07, run_r08, run_r09,
             run_r10, run_r11, run_r12, run_r13, run_r14, run_r15, run_r16, run_r17, run_r18,
             run_r19, run_r20, run_q01, run_q02, run_q03, run_q04, run_q05, run_q06, run_q07,
             run_q08, run_q09, run_q10, run_q11, run_q12, run_q13, run_q14, run_q15, run_q16,
             run_q17, run_q18, run_q19, run_q20, run_q21,
             run_m01, run_m02, run_m03, run_m04, run_m05, run_m06, run_m07,
             run_m08, run_m09, run_m10, run_m11, run_m12, run_n01, run_n02, run_n03, run_n04,
             run_n05, run_n06, run_n07, run_n08, run_n09, run_n10, run_s01, run_s02, run_s03,
             run_l01, run_l02, run_l03, run_l04, run_l05, run_l06, run_l07, run_l08]
cluster_runs = [cl_01, cl_02, cl_03, cl_04, cl_05, cl_06, cl_07, cl_08, cl_09, cl_10, cl_11,
                cl_12, cl_13, cl_14, cl_15, cl_16, cl_17, cl_18, cl_19, cl_20, cl_21, cl_22]
cluster_runs2 = [cm_01, cm_02, cm_03, cm_04, cm_05, cm_06, cm_07, cm_08, cm_09, cm_10, cm_11,
                 cm_12, cm_13, cm_14, cm_15]
cluster_runs3 = [ck_01, ck_02, ck_03, ck_04, ck_05, ck_06, ck_07, ck_08, ck_09, ck_10]

# ---------------- figure ----------------
FONT = "Liberation Sans"
GRAY = "#868686"

p = figure(width=1725, height=1053, x_axis_type="log", y_axis_type="log",
           x_range=Range1d(1000, 1e6), y_range=Range1d(1e-3, 1e4),
           output_backend="svg", toolbar_location=None,
           min_border_left=244, min_border_right=133, min_border_top=32, min_border_bottom=191)
p.outline_line_color = None
p.background_fill_color = "white"
p.border_fill_color = "white"

x_minor = [m * 10 ** k for k in range(3, 6) for m in range(2, 10)]
y_minor = [m * 10.0 ** k for k in range(-3, 4) for m in range(2, 10)]

def make_xticker():
    return FixedTicker(ticks=x_tick_values, minor_ticks=x_minor)

def make_yticker():
    return FixedTicker(ticks=y_tick_values, minor_ticks=y_minor)

def style(ax, mj_in, mj_out, mn_in, mn_out):
    ax.axis_line_color = "black"
    ax.axis_line_width = 2.5
    ax.major_tick_line_color = "black"
    ax.minor_tick_line_color = "black"
    ax.major_tick_line_width = 2
    ax.minor_tick_line_width = 2
    ax.major_tick_in = mj_in
    ax.major_tick_out = mj_out
    ax.minor_tick_in = mn_in
    ax.minor_tick_out = mn_out
    ax.major_label_text_font = FONT
    ax.major_label_text_color = "black"
    ax.axis_label_text_font = FONT
    ax.axis_label_text_font_style = "normal"
    ax.axis_label_text_color = "black"

xb = p.xaxis[0]
xb.ticker = make_xticker()
style(xb, 20, 19, 12, 12)
xb.major_label_overrides = dict(zip(x_tick_values, x_tick_labels))
xb.major_label_text_font_size = "58px"
xb.major_label_standoff = 44
xb.axis_label = x_title
xb.axis_label_text_font_size = "65px"
xb.axis_label_standoff = 10

yl = p.yaxis[0]
yl.ticker = make_yticker()
style(yl, 20, 18, 13, 0)
yl.major_label_overrides = dict(zip(y_tick_values, y_tick_labels))
yl.major_label_text_font_size = "56px"
yl.major_label_standoff = 26
yl.axis_label = y_title
yl.axis_label_text_font_size = "64px"
yl.axis_label_standoff = 20

xt = LogAxis(ticker=make_xticker())
style(xt, 18, 0, 12, 0)
xt.major_label_overrides = {v: "" for v in x_tick_values}
xt.major_label_text_font_size = "0px"
xt.major_label_standoff = 0
p.add_layout(xt, "above")

yr = LogAxis(ticker=make_yticker())
style(yr, 12, 20, 12, 12)
yr.major_label_overrides = {v: "" for v in y_tick_values}
yr.major_label_text_font_size = "0px"
yr.major_label_standoff = 0
p.add_layout(yr, "right")

p.add_layout(Title(text=file_note, align="right", text_font=FONT, text_font_size="26px",
                   text_font_style="normal", text_color="black", standoff=0, offset=-3),
             "above")

for g, tk in ((p.xgrid[0], x_tick_values), (p.ygrid[0], y_tick_values)):
    g.ticker = FixedTicker(ticks=tk)
    g.grid_line_color = "black"
    g.grid_line_dash = "1 5"
    g.grid_line_width = 1.5

# horsetails
gx, gy = [], []
for run in pair_runs:
    gx.append([t for t, v in run])
    gy.append([v for t, v in run])
for grid, group in ((cluster_t, cluster_runs), (cluster_t2, cluster_runs2),
                    (cluster_t3, cluster_runs3)):
    for vals in group:
        pairs = list(zip(grid, vals))
        gx.append([t for t, v in pairs])
        gy.append([v for t, v in pairs])
p.multi_line(xs="xs", ys="ys", source=ColumnDataSource(dict(xs=gx, ys=gy)),
             line_color=GRAY, line_width=1.7)

def stat_line(data, color):
    return p.line([t for t, v in data], [v for t, v in data], line_color=color,
                  line_width=7, line_join="round", line_cap="round")

r_med = stat_line(median, "#00FFFF")
r_mean = stat_line(mean, "#FF0000")
r_95 = stat_line(p95, "black")

legend = Legend(items=[LegendItem(label=series_names[0], renderers=[r_95]),
                       LegendItem(label=series_names[1], renderers=[r_mean]),
                       LegendItem(label=series_names[2], renderers=[r_med]),
                       LegendItem(label=series_names[3], renderers=[r_95])],
                location=(61, 586))
legend.label_text_font = FONT
legend.label_text_font_size = "37px"
legend.label_text_color = "black"
legend.glyph_width = 87
legend.glyph_height = 40
legend.label_height = 40
legend.label_standoff = 16
legend.padding = 19
legend.spacing = 3
legend.margin = 0
legend.border_line_color = "black"
legend.border_line_width = 1.5
legend.background_fill_alpha = 1.0
p.add_layout(legend, "center")

open("out.html", "w").write(file_html(p, INLINE))
